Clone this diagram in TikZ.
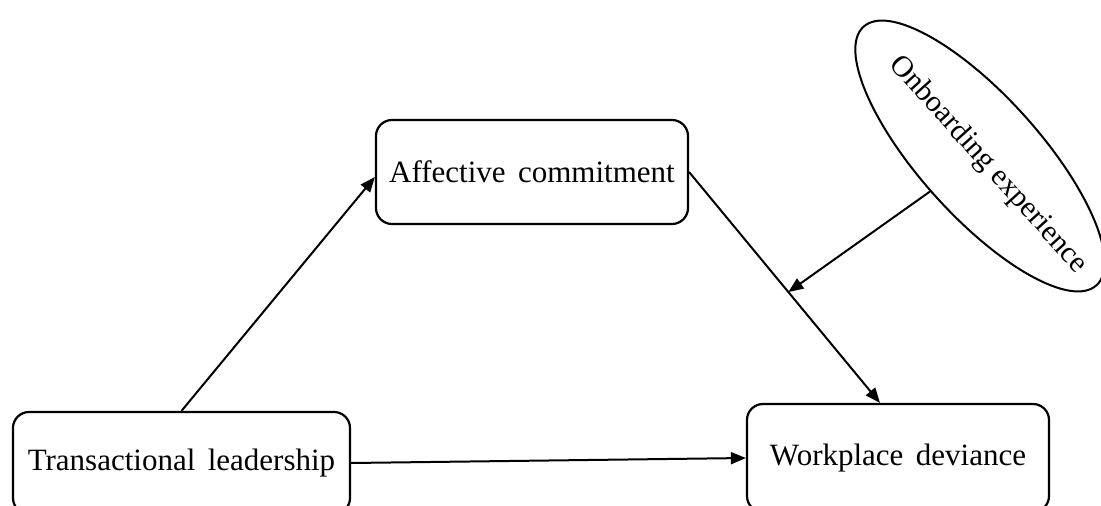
\documentclass[tikz,border=0pt]{standalone}
\usepackage{fontspec}
\setmainfont{Liberation Serif}
\usetikzlibrary{shapes.geometric,arrows.meta,calc}
\newcommand\myboxfont{\fontsize{31}{37}\selectfont\spaceskip=0.4em plus 0.1em\relax}
\begin{document}
\begin{tikzpicture}[x=1pt,y=-1pt,
  box/.style={draw, line width=2.2pt, rounded corners=16pt, inner sep=0pt,
    font=\myboxfont},
  oval/.style={draw, ellipse, line width=2pt, inner sep=0pt,
    font=\fontsize{30}{36}\selectfont},
  conn/.style={line width=2pt, -{Triangle[length=15pt,width=12pt]}},
  ]
\useasboundingbox (0,0) rectangle (1101,506);
\clip (0,0) rectangle (1101,506);
\node[box, minimum width=337pt, minimum height=102pt] (tl) at (181.5,463) {Transactional leadership};
\node[box, minimum width=302pt, minimum height=108pt] (wd) at (898,458) {Workplace deviance};
\node[box, minimum width=312pt, minimum height=104pt] (ac) at (532,172) {Affective commitment};
\node[oval, minimum width=348pt, minimum height=120pt, rotate=-48] (ob) at (980,156)
  {\makebox[0pt]{\hspace{24pt}Onboarding experience}};
\coordinate (acout) at (ac.east);
\coordinate (wdin) at ([xshift=-18pt]wd.north);
\coordinate (mid) at ($(acout)!0.52!(wdin)$);
\draw[conn] (tl.north) -- ([yshift=-5pt]ac.west);
\draw[conn] (tl.east) -- (wd.west);
\draw[conn] (acout) -- (wdin);
\draw[conn] (ob) -- (mid);
\end{tikzpicture}
\end{document}
